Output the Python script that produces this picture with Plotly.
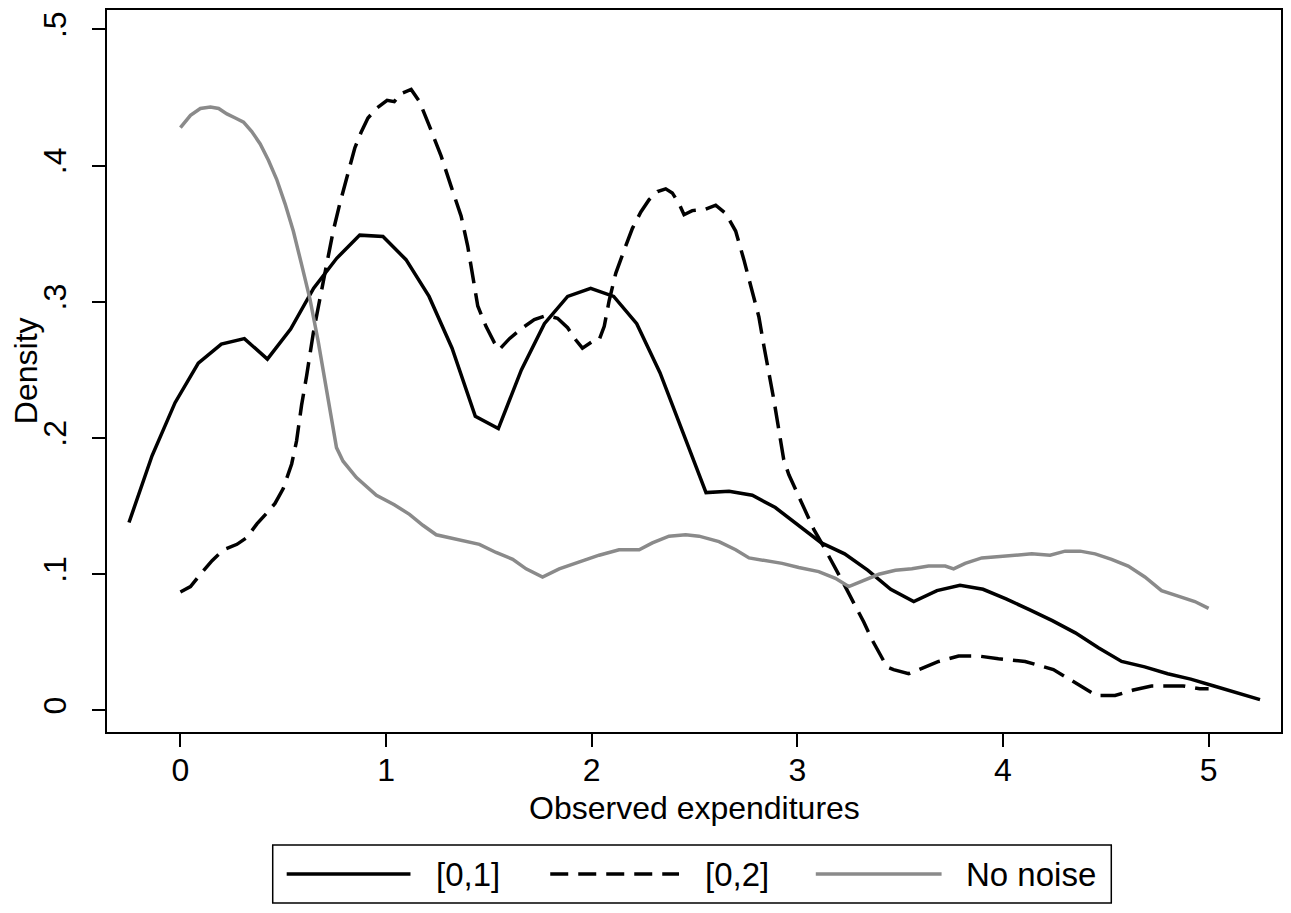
import plotly.graph_objects as go

# ---- data ----
x_01 = [-0.250, -0.138, -0.026, 0.087, 0.199, 0.311, 0.423, 0.536, 0.648, 0.760,
        0.872, 0.985, 1.097, 1.209, 1.321, 1.434, 1.546, 1.658, 1.770, 1.883,
        1.995, 2.107, 2.219, 2.332, 2.444, 2.556, 2.668, 2.781, 2.893, 3.005,
        3.117, 3.230, 3.342, 3.454, 3.566, 3.679, 3.791, 3.903, 4.015, 4.128,
        4.240, 4.352, 4.464, 4.577, 4.689, 4.801, 4.913, 5.026, 5.138, 5.250]
y_01 = [0.138, 0.187, 0.226, 0.255, 0.269, 0.273, 0.258, 0.280, 0.310, 0.332,
        0.349, 0.348, 0.331, 0.304, 0.266, 0.216, 0.207, 0.250, 0.284, 0.304,
        0.310, 0.304, 0.284, 0.248, 0.204, 0.160, 0.161, 0.158, 0.149, 0.136,
        0.123, 0.115, 0.103, 0.089, 0.080, 0.088, 0.092, 0.089, 0.082, 0.074,
        0.066, 0.057, 0.046, 0.036, 0.032, 0.027, 0.023, 0.018, 0.013, 0.008]

x_02 = [0.0, 0.049, 0.097, 0.154, 0.21, 0.275, 0.323, 0.372, 0.42, 0.46,
        0.5, 0.541, 0.565, 0.589, 0.614, 0.646, 0.678, 0.71, 0.743, 0.775,
        0.807, 0.848, 0.88, 0.912, 0.953, 1.005, 1.04, 1.074, 1.122, 1.163,
        1.211, 1.268, 1.316, 1.365, 1.397, 1.421, 1.446, 1.486, 1.527, 1.551,
        1.6, 1.664, 1.721, 1.778, 1.834, 1.883, 1.923, 1.955, 2.004, 2.036,
        2.061, 2.085, 2.117, 2.158, 2.198, 2.239, 2.279, 2.32, 2.36, 2.392,
        2.425, 2.449, 2.489, 2.554, 2.603, 2.651, 2.7, 2.74, 2.773, 2.813,
        2.837, 2.862, 2.886, 2.91, 2.934, 2.959, 2.999, 3.04, 3.08, 3.129,
        3.177, 3.226, 3.274, 3.323, 3.363, 3.404, 3.436, 3.468, 3.541, 3.606,
        3.687, 3.784, 3.881, 3.978, 4.108, 4.245, 4.367, 4.455, 4.496, 4.545,
        4.634, 4.722, 4.787, 4.876, 4.957, 5.0]
y_02 = [0.087, 0.091, 0.100, 0.110, 0.118, 0.122, 0.127, 0.137, 0.145, 0.152,
        0.163, 0.181, 0.198, 0.224, 0.246, 0.277, 0.302, 0.327, 0.352, 0.372,
        0.390, 0.413, 0.425, 0.435, 0.442, 0.448, 0.447, 0.453, 0.456, 0.447,
        0.429, 0.407, 0.385, 0.363, 0.341, 0.319, 0.297, 0.282, 0.270, 0.265,
        0.273, 0.281, 0.287, 0.290, 0.288, 0.281, 0.272, 0.266, 0.271, 0.272,
        0.282, 0.301, 0.321, 0.338, 0.354, 0.366, 0.375, 0.381, 0.383, 0.380,
        0.372, 0.364, 0.367, 0.368, 0.371, 0.365, 0.352, 0.331, 0.311, 0.289,
        0.268, 0.248, 0.228, 0.206, 0.184, 0.173, 0.160, 0.146, 0.133, 0.120,
        0.107, 0.093, 0.079, 0.065, 0.052, 0.040, 0.032, 0.030, 0.027, 0.031,
        0.036, 0.040, 0.040, 0.038, 0.036, 0.030, 0.019, 0.011, 0.011, 0.011,
        0.015, 0.018, 0.018, 0.018, 0.016, 0.016]

x_nn = [0.0, 0.049, 0.097, 0.146, 0.186, 0.226, 0.267, 0.307, 0.347, 0.388,
        0.428, 0.468, 0.509, 0.549, 0.59, 0.63, 0.67, 0.703, 0.735, 0.759,
        0.791, 0.856, 0.953, 1.040, 1.114, 1.179, 1.244, 1.373, 1.454, 1.535,
        1.616, 1.681, 1.761, 1.842, 1.939, 2.036, 2.133, 2.231, 2.295, 2.376,
        2.457, 2.522, 2.619, 2.7, 2.765, 2.846, 2.926, 3.007, 3.104, 3.185,
        3.25, 3.315, 3.396, 3.477, 3.557, 3.638, 3.719, 3.76, 3.816, 3.897,
        3.978, 4.059, 4.14, 4.229, 4.302, 4.375, 4.448, 4.528, 4.609, 4.69,
        4.771, 4.852, 4.933, 5.0]
y_nn = [0.428, 0.437, 0.442, 0.443, 0.442, 0.438, 0.435, 0.432, 0.425, 0.416,
        0.404, 0.390, 0.372, 0.352, 0.327, 0.302, 0.271, 0.241, 0.211, 0.193,
        0.183, 0.171, 0.158, 0.151, 0.144, 0.136, 0.129, 0.125, 0.122, 0.116,
        0.111, 0.104, 0.098, 0.104, 0.109, 0.114, 0.118, 0.118, 0.123, 0.128,
        0.129, 0.128, 0.124, 0.118, 0.112, 0.110, 0.108, 0.105, 0.102, 0.097,
        0.091, 0.095, 0.100, 0.103, 0.104, 0.106, 0.106, 0.104, 0.108, 0.112,
        0.113, 0.114, 0.115, 0.114, 0.117, 0.117, 0.115, 0.111, 0.106, 0.098,
        0.088, 0.084, 0.080, 0.075]

x_ticks = [0, 1, 2, 3, 4, 5]
y_ticks = [0, 0.1, 0.2, 0.3, 0.4, 0.5]
y_ticktext = ["0", ".1", ".2", ".3", ".4", ".5"]
legend_labels = ["[0,1]", "[0,2]", "No noise"]
x_title = "Observed expenditures"
y_title = "Density"

FONT = "Arial, Liberation Sans, sans-serif"
FS = 32
GREY = "#8a8a8a"
DASH = "22px,10px"
LEG_DASH = "18px,10px"
LW = 3.5

fig = go.Figure()
fig.add_trace(go.Scatter(x=x_01, y=y_01, mode="lines", name=legend_labels[0],
                         line=dict(color="black", width=LW)))
fig.add_trace(go.Scatter(x=x_02, y=y_02, mode="lines", name=legend_labels[1],
                         line=dict(color="black", width=LW, dash=DASH)))
fig.add_trace(go.Scatter(x=x_nn, y=y_nn, mode="lines", name=legend_labels[2],
                         line=dict(color=GREY, width=LW)))

W, H = 1291, 913
L, R, T, B = 107, 8, 10, 181
pw, ph = W - L - R, H - T - B

def px2paper_x(px):
    return (px - L) / pw

def px2paper_y(py):
    return (H - B - py) / ph

shapes = []
annotations = []
# legend box
shapes.append(dict(type="rect", xref="paper", yref="paper",
                   x0=px2paper_x(273), x1=px2paper_x(1113),
                   y0=px2paper_y(903), y1=px2paper_y(845),
                   line=dict(color="black", width=1.5), fillcolor="white"))
ly = px2paper_y(874)
keys = [(287, 411, "black", "solid", 435),
        (551, 680, "black", LEG_DASH, 704),
        (817, 943, GREY, "solid", 965)]
for (a, b, c, d, tx), lab in zip(keys, legend_labels):
    shapes.append(dict(type="line", xref="paper", yref="paper",
                       x0=px2paper_x(a), x1=px2paper_x(b), y0=ly, y1=ly,
                       line=dict(color=c, width=LW, dash=d)))
    annotations.append(dict(xref="paper", yref="paper", x=px2paper_x(tx), y=ly,
                            text=lab, showarrow=False, xanchor="left", yanchor="middle",
                            font=dict(family=FONT, size=33, color="black")))

# axis titles
annotations.append(dict(xref="paper", yref="paper", x=px2paper_x(26), y=0.5,
                        text=y_title, textangle=-90, showarrow=False,
                        xanchor="center", yanchor="middle",
                        font=dict(family=FONT, size=FS, color="black")))
annotations.append(dict(xref="paper", yref="paper", x=0.5, y=px2paper_y(808),
                        text=x_title, showarrow=False,
                        xanchor="center", yanchor="middle",
                        font=dict(family=FONT, size=FS, color="black")))

fig.update_layout(
    width=W, height=H,
    margin=dict(l=L, r=R, t=T, b=B),
    paper_bgcolor="white", plot_bgcolor="white",
    showlegend=False,
    font=dict(family=FONT, size=FS, color="black"),
    shapes=shapes, annotations=annotations,
    xaxis=dict(range=[-0.357, 5.352], tickvals=x_ticks, ticks="outside",
               ticklen=13, tickwidth=2, tickcolor="black",
               ticklabelstandoff=-4,
               showline=True, linecolor="black", linewidth=2, mirror=True,
               showgrid=False, zeroline=False,
               tickfont=dict(family=FONT, size=FS, color="black")),
    yaxis=dict(range=[-0.0158, 0.5143], tickvals=y_ticks, ticktext=y_ticktext,
               ticks="outside", ticklen=13, tickwidth=2, tickcolor="black",
               tickangle=-90, ticklabelstandoff=13,
               showline=True, linecolor="black", linewidth=2, mirror=True,
               showgrid=False, zeroline=False,
               tickfont=dict(family=FONT, size=FS, color="black")),
)

fig.write_html("out.html")
